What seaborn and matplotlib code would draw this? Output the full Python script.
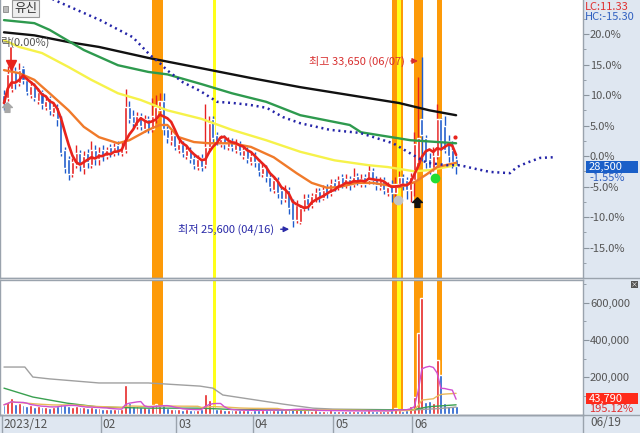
import numpy as np
import pandas as pd
import matplotlib.pyplot as plt
import seaborn as sns
from matplotlib.patches import Rectangle
from matplotlib.lines import Line2D

sns.set_style("white")
plt.rcParams['font.family'] = ['Noto Sans CJK KR', 'DejaVu Sans']

# ----------------------------
# Daily candles (% from base price)
# ----------------------------
opens = [10.0, 9.5, 11.0, 14.0, 12.0, 14.5, 12.5, 10.0, 11.5, 9.0,
         10.5, 8.0, 9.5, 7.0, 8.0, 6.0, 1.0, -0.5, -3.0, -1.5,
         0.5, -2.0, 0.5, -1.5, 1.0, -0.5, 1.0, 0.0, 1.5, 0.5,
         1.8, 0.5, 1.0, 8.0, 6.5, 5.0, 6.5, 4.5, 6.0, 4.5,
         6.0, 7.5, 9.0, 4.5, 2.5, 3.5, 1.0, 2.0, 0.0, 1.0,
         -0.3, -1.8, -0.3, -1.5, 1.5, 6.0, 3.5, 2.0, 3.0, 1.5,
         2.5, 1.0, 2.0, 0.0, 1.0, -1.0, 0.2, -1.0, -3.0, -2.0,
         -3.5, -5.5, -4.0, -5.5, -7.0, -5.5, -7.5, -10.5, -10.8, -8.5,
         -6.8, -8.0, -7.0, -5.8, -6.8, -5.0, -6.0, -4.2, -5.0, -3.5,
         -4.8, -3.8, -4.5, -3.2, -4.5, -3.5, -4.0, -2.5, -3.8, -5.0,
         -4.0, -6.0, -4.5, -6.0, -4.5, -3.5, -4.0, -5.5, -4.0, -1.0,
         6.0, 3.0, -0.5, -2.0, 0.0, 6.0, 5.0, 2.5, 1.0, -0.5]
closes = [8.7, 13.5, 14.0, 12.0, 14.2, 12.5, 10.5, 11.5, 9.5, 10.5,
          8.5, 9.0, 7.5, 8.0, 6.0, 0.5, -2.0, -3.0, -1.0, 0.5,
          -1.5, 0.0, -1.0, 1.0, -0.5, 0.5, 0.0, 1.0, 0.5, 1.5,
          0.8, 1.5, 8.0, 6.0, 5.5, 6.5, 5.0, 6.0, 4.5, 6.5,
          8.0, 9.0, 4.5, 3.0, 3.5, 1.5, 2.0, 0.5, 1.0, -0.5,
          -1.5, -0.5, -1.8, 1.5, 5.5, 3.0, 2.5, 2.8, 2.0, 2.5,
          1.5, 2.0, 0.8, 1.0, -0.5, 0.0, -1.0, -2.5, -2.0, -3.5,
          -5.0, -4.0, -6.0, -7.0, -5.5, -8.5, -10.5, -8.0, -8.5, -7.0,
          -8.0, -6.5, -6.0, -6.8, -5.5, -6.0, -4.5, -5.0, -4.0, -4.5,
          -3.8, -4.8, -3.5, -4.2, -3.8, -4.5, -2.5, -4.0, -4.8, -4.0,
          -5.5, -5.0, -6.0, -4.5, -3.5, -4.5, -5.5, -3.5, 2.0, 3.0,
          3.4, -1.0, -2.0, 0.0, 6.0, 2.5, 1.0, 0.0, -1.0, -1.55]
highs = [10.8, 14.8, 15.0, 14.6, 15.2, 14.8, 13.0, 12.3, 12.0, 11.2,
         10.8, 9.8, 9.8, 8.8, 8.5, 6.5, 1.5, 0.0, -0.3, 1.8,
         1.0, 0.8, 1.2, 2.5, 1.8, 1.5, 1.8, 1.5, 2.0, 2.2,
         2.5, 2.3, 11.0, 9.0, 7.5, 7.3, 7.0, 6.8, 6.5, 9.5,
         10.0, 10.3, 10.3, 5.0, 4.2, 4.0, 2.8, 2.5, 1.8, 1.5,
         0.2, 0.2, 0.3, 8.5, 6.5, 6.5, 4.0, 3.5, 3.5, 3.2,
         3.0, 2.8, 2.5, 1.6, 1.5, 0.8, 0.6, -0.5, -1.2, -1.5,
         -3.0, -3.2, -3.5, -5.0, -4.8, -5.0, -7.0, -7.2, -8.0, -6.2,
         -6.2, -6.0, -5.2, -5.2, -4.8, -4.5, -3.8, -3.8, -3.2, -3.0,
         -3.0, -3.2, -2.0, -2.8, -3.0, -3.0, -1.5, -2.0, -3.2, -3.5,
         -3.5, -4.2, -4.0, -3.5, -2.5, -3.0, -3.5, -2.8, 4.0, 13.0,
         16.2, 3.5, 0.5, 1.5, 8.5, 6.3, 6.5, 3.5, 2.5, 0.0]
lows = [7.5, 9.0, 10.5, 11.0, 11.5, 11.8, 10.0, 9.5, 9.0, 8.5,
        7.8, 7.5, 6.8, 6.5, 5.0, 0.0, -2.8, -4.0, -3.5, -2.0,
        -2.5, -3.0, -2.0, -2.0, -1.5, -1.5, -0.8, -0.5, -0.2, 0.0,
        0.2, 0.0, 0.5, 5.5, 4.8, 4.5, 4.2, 4.0, 3.8, 4.0,
        5.5, 6.8, 3.5, 2.2, 1.8, 1.0, 0.5, -0.2, -0.5, -1.2,
        -2.2, -2.3, -2.5, -2.0, 1.0, 2.2, 1.8, 1.5, 1.2, 1.0,
        0.8, 0.5, 0.2, -0.5, -1.2, -1.5, -1.8, -3.2, -3.5, -4.2,
        -5.8, -6.0, -6.8, -7.8, -7.5, -9.5, -11.6, -11.0, -11.2, -9.0,
        -8.8, -8.5, -7.5, -7.5, -7.2, -6.8, -6.5, -5.8, -5.5, -5.2,
        -5.3, -5.5, -5.0, -4.8, -5.0, -5.0, -4.5, -4.5, -5.5, -5.5,
        -6.2, -6.5, -7.5, -6.8, -5.0, -5.5, -7.0, -7.5, -6.5, -1.5,
        -0.8, -2.0, -3.0, -2.5, -0.5, 1.0, 0.5, -1.0, -2.0, -3.0]
volumes = [50000, 65000, 85000, 55000, 60000, 50000, 45000, 48000, 40000, 42000,
           38000, 40000, 35000, 38000, 45000, 55000, 50000, 45000, 38000, 42000,
           36000, 38000, 32000, 40000, 35000, 32000, 30000, 28000, 26000, 28000,
           25000, 26000, 155000, 60000, 45000, 42000, 36000, 38000, 34000, 48000,
           52000, 45000, 48000, 35000, 30000, 28000, 26000, 24000, 26000, 24000,
           22000, 24000, 26000, 110000, 75000, 45000, 30000, 26000, 24000, 22000,
           21000, 22000, 20000, 21000, 20000, 18000, 20000, 22000, 20000, 21000,
           24000, 21000, 22000, 24000, 21000, 26000, 30000, 28000, 26000, 21000,
           20000, 19000, 21000, 18000, 19000, 18000, 20000, 18000, 17000, 18000,
           16000, 17000, 19000, 16000, 17000, 16000, 20000, 17000, 18000, 16000,
           18000, 17000, 22000, 32000, 24000, 18000, 22000, 45000, 90000, 440000,
           625000, 65000, 70000, 60000, 290000, 210000, 60000, 45000, 42000, 43790]

# ----------------------------
# Longer moving averages (day index, %)
# ----------------------------
ma20_day = [0, 4, 8, 12, 17, 21, 25, 30, 33, 38, 41, 43, 46, 50, 54, 60, 65, 71,
            77, 81, 85, 88, 93, 97, 101, 104, 108, 111, 114, 119]
ma20_val = [14.1, 13.6, 12.5, 10.3, 7.5, 4.8, 3.1, 2.1, 2.6, 4.3, 5.1, 5.1, 3.1, 2.3,
            2.1, 2.1, 1.5, -0.2, -2.8, -4.4, -5.2, -5.1, -4.4, -4.4, -4.8, -5.1,
            -4.3, -3.1, -1.8, -1.1]
ma60_day = [0, 4, 10, 17, 23, 30, 36, 43, 52, 60, 69, 78, 87, 96, 101, 108, 112, 119]
ma60_val = [19.0, 17.9, 16.9, 14.6, 12.5, 10.3, 9.2, 7.5, 6.1, 4.3, 2.6, 0.7, -0.7,
            -1.5, -1.8, -2.5, -2.3, -1.5]
ma120_day = [0, 8, 12, 21, 30, 38, 43, 52, 60, 69, 78, 91, 94, 107, 119]
ma120_val = [22.3, 21.8, 20.7, 17.4, 14.9, 13.8, 13.4, 11.8, 10.3, 8.9, 6.7, 5.1,
             3.9, 2.6, 2.1]
ma240_day = [0, 8, 17, 25, 38, 52, 65, 78, 91, 104, 112, 119]
ma240_val = [20.3, 19.8, 18.7, 17.9, 16.1, 14.4, 12.8, 11.3, 10.0, 8.7, 7.5, 6.7]
lead_day = [9.5, 14.7, 25.3, 33.9, 38.4, 41.1, 42.9, 47.1, 51.6, 56.1, 60.3, 64.7,
            69.2, 73.4, 77.9, 85.8, 93.7, 102.4, 107.6, 111.3, 116.6, 120, 123.4,
            127.9, 133.2, 135, 137.6, 141.1, 144.5]
lead_val = [26.7, 25.2, 22.3, 19.5, 16.6, 15.2, 14.1, 12.1, 10.7, 8.9, 8.7, 8.4,
            7.9, 6.4, 5.4, 4.3, 3.8, 2.1, 0.2, -1.1, -1.5, -1.5, -2.0, -2.6, -2.8,
            -1.8, -1.1, -0.3, -0.2]

# volume moving averages
vma120_day = [0, 5.5, 7.6, 12, 25, 38, 51.6, 55, 57.6, 64.7, 73.4, 81.3, 86.6,
              107.6, 114.7, 119]
vma120_val = [254000, 254000, 200000, 190000, 168000, 168000, 151000, 140000, 103000,
              81000, 54000, 32000, 27000, 22000, 30000, 38000]
vma60_day = [0, 7.6, 16.6, 25, 38, 51.6, 60, 80, 107, 112, 119]
vma60_val = [140000, 92000, 59000, 38000, 32000, 32000, 25000, 20000, 22000, 40000, 50000]

# signal bands (day index ranges)
orange_bands = [(38.9, 41.8), (102.1, 105.0), (108.0, 110.2), (114.0, 115.2)]
yellow_bands = [(54.9, 55.8), (103.4, 104.5)]

month_pos = [-0.53, 25.5, 45.3, 65.5, 86.6, 107.4]
month_labels = ["2023/12", "02", "03", "04", "05", "06"]

df = pd.DataFrame({"day": np.arange(len(closes)), "open": opens, "close": closes,
                   "high": highs, "low": lows, "volume": volumes})
df["ma5"] = df["close"].rolling(5, min_periods=1).mean()
df["vma5"] = df["volume"].rolling(5, min_periods=1).mean()
df["vma20"] = df["volume"].rolling(20, min_periods=1).mean()

RED = "#e62222"
BLUE = "#1f5ccc"
up = df["close"] >= df["open"]
ccol = np.where(up, RED, BLUE)
prev = df["close"].shift(1).fillna(df["open"])
vcol = np.where(df["close"] >= prev, RED, BLUE)

W, H = 640, 433
fig = plt.figure(figsize=(6.4, 4.33), dpi=100)
STRIP = "#dfe7f1"
fig.patches.append(Rectangle((583 / W, 0), 57 / W, 1, transform=fig.transFigure,
                             facecolor=STRIP, edgecolor="none", zorder=-10))
fig.patches.append(Rectangle((0, 0), 1, 18 / H, transform=fig.transFigure,
                             facecolor=STRIP, edgecolor="none", zorder=-10))

XMIN, XMAX = -1.05, 152.4
ax = fig.add_axes([0, 155 / H, 583 / W, 278 / H])
axv = fig.add_axes([0, 18 / H, 583 / W, 135 / H])
axd = fig.add_axes([0, 0, 583 / W, 18 / H])
for a in (ax, axv, axd):
    a.set_xlim(XMIN, XMAX)
    a.set_facecolor("none")
    for s in a.spines.values():
        s.set_color("#9aa3ad")
        s.set_linewidth(1)
    a.set_xticks([])
ax.set_facecolor("white")
axv.set_facecolor("white")

# ----------------------------
# Price panel
# ----------------------------
for a in (ax, axv):
    for lo, hi in orange_bands:
        a.axvspan(lo, hi, color="#fd9a08", lw=0, zorder=1)
    for lo, hi in yellow_bands:
        a.axvspan(lo, hi, color="#ffff1a", lw=0, zorder=1.1)

ax.vlines(df["day"], df["low"], df["high"], colors=ccol, lw=1.0, zorder=3)
body_lo = np.minimum(df["open"], df["close"])
body_h = np.maximum(np.abs(df["close"] - df["open"]), 0.25)
ax.bar(df["day"], body_h, bottom=body_lo, width=0.8, color=ccol, zorder=4)

sns.lineplot(x=ma240_day, y=ma240_val, ax=ax, color="#111111", lw=1.7, zorder=5)
sns.lineplot(x=ma120_day, y=ma120_val, ax=ax, color="#2e9a4e", lw=1.7, zorder=5)
sns.lineplot(x=ma60_day, y=ma60_val, ax=ax, color="#f6f24a", lw=1.7, zorder=5)
sns.lineplot(x=ma20_day, y=ma20_val, ax=ax, color="#f07a2a", lw=1.7, zorder=5)
sns.lineplot(data=df, x="day", y="ma5", ax=ax, color="#e8231c", lw=1.9, zorder=6)
sns.lineplot(x=lead_day, y=lead_val, ax=ax, color="#2424a8", lw=1.8,
             linestyle=(0, (0.8, 1.5)), zorder=6)

ax.set_ylim(-20.0, 25.6)
ax.yaxis.tick_right()
ax.set_yticks([-15, -10, -5, 0, 5, 10, 15, 20])
ax.set_yticklabels([f"{v:.1f}%" for v in [-15, -10, -5, 0, 5, 10, 15, 20]])
ax.set_yticks(np.arange(-17.5, 25, 2.5), minor=True)
ax.tick_params(axis="y", which="major", direction="out", length=4, width=0.8,
               color="#8a949e", labelsize=8, labelcolor="#555555", pad=1)
ax.tick_params(axis="y", which="minor", direction="out", length=2, width=0.6,
               color="#8a949e")
ax.spines["top"].set_visible(False)
ax.set_xlabel("")
ax.set_ylabel("")

# markers
house = [(0, 1), (1, 0), (0.5, 0), (0.5, -1), (-0.5, -1), (-0.5, 0), (-1, 0), (0, 1)]
ax.plot([1.8, 1.8], [17.7, 15.6], color="#e8231c", lw=1.2, zorder=7)
ax.plot(1.8, 14.9, marker="v", color="#e8231c", ms=7, zorder=7)
ax.plot(0.8, 8.0, marker=house, color="#a8a8a8", ms=7, zorder=7)
ax.plot(103.7, -7.2, marker="o", color="#c4c4c4", ms=6, zorder=7)
ax.plot(108.7, -7.5, marker=house, color="#111111", ms=7, zorder=7)
ax.plot(113.4, -3.6, marker="o", color="#22dd33", ms=6, zorder=7)
ax.plot(118.7, 3.1, marker="o", color="#e8231c", ms=2, zorder=7)

ax.text(105.5, 15.6, "최고 33,650 (06/07)", color="#d83030", fontsize=8,
        ha="right", va="center", zorder=8)
ax.annotate("", xy=(109.7, 15.6), xytext=(106.4, 15.6),
            arrowprops=dict(arrowstyle="-|>", color="#d83030", lw=1, mutation_scale=8))
ax.text(71.0, -12.0, "최저 25,600 (04/16)", color="#2a2aa8", fontsize=8,
        ha="right", va="center", zorder=8)
ax.annotate("", xy=(75.8, -12.0), xytext=(72.1, -12.0),
            arrowprops=dict(arrowstyle="-|>", color="#2a2aa8", lw=1, mutation_scale=8))
ax.text(XMIN, 18.7, "락(0.00%)", color="#555555", fontsize=8, ha="left",
        va="center", zorder=8)

# ----------------------------
# Volume panel
# ----------------------------
axv.bar(df["day"], df["volume"], width=0.75, color=vcol, zorder=3)
sns.lineplot(x=vma120_day, y=vma120_val, ax=axv, color="#a0a0a0", lw=1, zorder=4)
sns.lineplot(x=vma60_day, y=vma60_val, ax=axv, color="#3aa050", lw=1, zorder=4)
sns.lineplot(data=df, x="day", y="vma20", ax=axv, color="#e8b85a", lw=1, zorder=4)
sns.lineplot(data=df, x="day", y="vma5", ax=axv, color="#d050d0", lw=1, zorder=4)
axv.set_ylim(-5000, 724000)
axv.yaxis.tick_right()
axv.set_yticks([200000, 400000, 600000])
axv.set_yticklabels(["200,000", "400,000", "600,000"])
axv.set_yticks(np.arange(100000, 720000, 100000), minor=True)
axv.tick_params(axis="y", which="major", direction="out", length=4, width=0.8,
                color="#8a949e", labelsize=8, labelcolor="#555555", pad=1)
axv.tick_params(axis="y", which="minor", direction="out", length=2, width=0.6,
                color="#8a949e")
axv.set_xlabel("")
axv.set_ylabel("")

# ----------------------------
# Date strip
# ----------------------------
axd.set_ylim(0, 1)
axd.set_yticks([])
for p, lab in zip(month_pos, month_labels):
    axd.axvline(p, color="#9aa3ad", lw=1)
    axd.text(p + 0.5, 0.45, lab, fontsize=8.5, color="#555555", ha="left", va="center")
for s in ("left", "bottom"):
    axd.spines[s].set_visible(False)

# ----------------------------
# Header and right-side labels
# ----------------------------
def fx(px):
    return px / W


def fy(py):
    return 1 - py / H


fig.patches.append(Rectangle((fx(3), fy(12)), 5 / W, 6 / H, transform=fig.transFigure,
                             facecolor="#bbbbbb", edgecolor="#888888", lw=0.6))
fig.text(fx(14), fy(8.5), "유신", fontsize=9, color="#333333", va="center",
         bbox=dict(boxstyle="square,pad=0.15", facecolor="#eeeeee", edgecolor="#999999", lw=0.8))

fig.text(fx(585), fy(7), "LC:11.33", fontsize=8, color="#e03030", va="center")
fig.text(fx(585), fy(17), "HC:-15.30", fontsize=8, color="#3060c0", va="center")

fig.patches.append(Rectangle((fx(586), fy(173)), 52 / W, 12 / H, transform=fig.transFigure,
                             facecolor="#1a5fc8", edgecolor="none"))
fig.text(fx(589), fy(167), "28,500", fontsize=8, color="white", va="center")
fig.text(fx(589), fy(178), "-1.55%", fontsize=8, color="#3060c0", va="center")

fig.patches.append(Rectangle((fx(586), fy(404)), 52 / W, 11 / H, transform=fig.transFigure,
                             facecolor="#ff2a1a", edgecolor="none"))
fig.text(fx(589), fy(398.5), "43,790", fontsize=8, color="white", va="center")
fig.text(fx(589), fy(409), "195.12%", fontsize=8, color="#e03030", va="center")

fig.text(fx(590), fy(423), "06/19", fontsize=8.5, color="#555555", va="center")

fig.patches.append(Rectangle((fx(631), fy(288)), 7 / W, 7 / H, transform=fig.transFigure,
                             facecolor="#555555", edgecolor="none"))
fig.text(fx(634.5), fy(284.5), "×", fontsize=5, color="white", ha="center", va="center")

fig.add_artist(Line2D([0, 1], [fy(415), fy(415)], transform=fig.transFigure,
                      color="#9aa3ad", lw=1))
fig.add_artist(Line2D([0, 1], [fy(278), fy(278)], transform=fig.transFigure,
                      color="#9aa3ad", lw=1))

fig.savefig("out.png", dpi=100)
plt.close(fig)
